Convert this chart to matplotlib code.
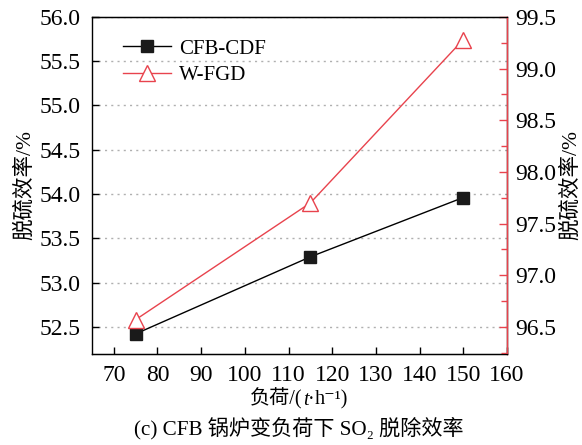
import numpy as np
import matplotlib
matplotlib.use('Agg')
import matplotlib.pyplot as plt
from matplotlib.ticker import MultipleLocator
from matplotlib.offsetbox import TextArea, HPacker, AnnotationBbox

plt.rcParams['font.family'] = ['Liberation Serif', 'Noto Sans CJK SC', 'DejaVu Serif']
plt.rcParams['font.size'] = 14

# Données
load = [75, 115, 150]
cfb_cdf = [52.42, 53.29, 53.96]
w_fgd = [96.57, 97.70, 99.28]

red = '#e8434d'

fig = plt.figure(figsize=(5.82, 4.45), dpi=100)
ax = fig.add_axes([0.158, 0.205, 0.713, 0.757])
ax2 = ax.twinx()

l1, = ax.plot(load, cfb_cdf, color='black', lw=1.0, marker='s', ms=8.5,
              mfc='#1a1a1a', mec='#1a1a1a', label='CFB-CDF')
l2, = ax2.plot(load, w_fgd, color=red, lw=1.0, marker='^', ms=11,
               mfc='white', mec=red, label='W-FGD')

ax.set_xlim(65, 160)
ax.set_ylim(52.195, 56.0)
ax2.set_ylim(96.24, 99.5)

ax.xaxis.set_major_locator(MultipleLocator(10))
ax.yaxis.set_major_locator(MultipleLocator(0.5))
ax2.yaxis.set_major_locator(MultipleLocator(0.5))
ax2.yaxis.set_minor_locator(MultipleLocator(0.25))
ax.yaxis.set_major_formatter(plt.FormatStrFormatter('%.1f'))
ax2.yaxis.set_major_formatter(plt.FormatStrFormatter('%.1f'))

ax.tick_params(axis='both', direction='in', length=5, width=1, labelsize=17, pad=8)
ax.tick_params(top=False, right=False)
ax2.tick_params(axis='y', which='major', direction='in', length=6, width=1,
                color=red, labelsize=17, pad=6)
ax2.tick_params(axis='y', which='minor', direction='in', length=4, width=1, color=red)

ax.grid(axis='y', linestyle=(0, (1.5, 3)), color='#b0b0b0', lw=1)
for s in ax.spines.values():
    s.set_linewidth(1)
ax2.spines['right'].set_color(red)
ax2.spines['right'].set_linewidth(1)
ax2.spines['left'].set_visible(False)

ax.set_ylabel('脱硫效率/%', fontsize=15.5, labelpad=3)
ax2.set_ylabel('脱硫效率/%', fontsize=15.5, labelpad=3)

leg = ax.legend(handles=[l1, l2], loc='upper left', frameon=False,
                handlelength=2.3, fontsize=15, bbox_to_anchor=(0.03, 0.99),
                labelspacing=0.35, handletextpad=0.4)

# x label with italic t
fs = 14.5
parts = [TextArea('负荷/(', textprops=dict(fontsize=fs)),
         TextArea('t', textprops=dict(fontsize=fs, style='italic')),
         TextArea('\u00b7', textprops=dict(fontsize=fs)),
         TextArea('h⁻¹)', textprops=dict(fontsize=fs))]
box = HPacker(children=parts, align='baseline', pad=0, sep=0)
ab = AnnotationBbox(box, (0.514, 0.103), xycoords='figure fraction', frameon=False)
fig.add_artist(ab)

fig.text(0.514, 0.038, '(c) CFB 锅炉变负荷下 SO₂ 脱除效率', ha='center', va='center', fontsize=15.2)

plt.savefig('out.png', dpi=100)
